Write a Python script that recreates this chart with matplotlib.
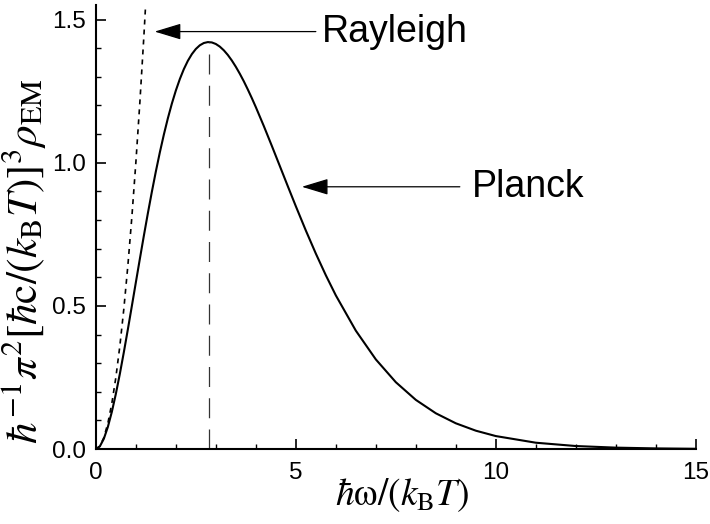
import matplotlib
matplotlib.use("Agg")
import matplotlib.pyplot as plt
from matplotlib.ticker import MultipleLocator

plt.rcParams['font.family'] = ['Liberation Sans', 'DejaVu Sans']
plt.rcParams['mathtext.fontset'] = 'stix'

# Planck curve
planck_x = [0, 0.1, 0.2, 0.3, 0.4, 0.5, 0.6, 0.7, 0.8, 0.9, 1.0, 1.1, 1.2, 1.3, 1.4, 1.5,
            1.6, 1.7, 1.8, 1.9, 2.0, 2.1, 2.2, 2.3, 2.4, 2.5, 2.6, 2.7, 2.8, 2.9, 3.0,
            3.1, 3.2, 3.3, 3.4, 3.5, 3.6, 3.7, 3.8, 3.9, 4.0, 4.2, 4.4, 4.6, 4.8, 5.0,
            5.25, 5.5, 5.75, 6.0, 6.5, 7.0, 7.5, 8.0, 8.5, 9.0, 9.5, 10, 11, 12, 13, 14, 15]
planck_y = [0, 0.0095, 0.0361, 0.0772, 0.1301, 0.1927, 0.2627, 0.3384, 0.4178, 0.4995,
            0.5820, 0.6641, 0.7448, 0.8231, 0.8981, 0.9694, 1.0362, 1.0981, 1.1549, 1.2063,
            1.2521, 1.2923, 1.3269, 1.3558, 1.3792, 1.3973, 1.4102, 1.4181, 1.4213, 1.4201,
            1.4147, 1.4054, 1.3925, 1.3763, 1.3570, 1.3350, 1.3106, 1.2842, 1.2556, 1.2256,
            1.1941, 1.1279, 1.0588, 0.9883, 0.9177, 0.8480, 0.7633, 0.6827, 0.6070, 0.5367,
            0.4135, 0.3131, 0.2335, 0.1718, 0.1250, 0.0900, 0.0642, 0.0454, 0.0222, 0.0106,
            0.0050, 0.0023, 0.0010]

# Rayleigh curve
rayleigh_x = [0, 0.1, 0.2, 0.3, 0.4, 0.5, 0.6, 0.7, 0.8, 0.9, 1.0, 1.1, 1.2, 1.3]
rayleigh_y = [0, 0.01, 0.04, 0.09, 0.16, 0.25, 0.36, 0.49, 0.64, 0.81, 1.0, 1.21, 1.44, 1.69]

peak_x = 2.82
peak_y = 1.42

fig = plt.figure(figsize=(7.1, 5.24), dpi=100)
ax = fig.add_axes([0.135, 0.143, 0.845, 0.847])

ax.plot(planck_x, planck_y, color='black', lw=1.5)
ax.plot(rayleigh_x, rayleigh_y, color='black', lw=1.2, linestyle=(0, (3, 3)))
ax.plot([peak_x, peak_x], [0, peak_y], color='#333333', lw=0.9, linestyle=(0, (16, 9)))

ax.set_xlim(0, 15)
ax.set_ylim(0, 1.55)
ax.xaxis.set_minor_locator(MultipleLocator(1))
ax.yaxis.set_minor_locator(MultipleLocator(0.1))
ax.set_xticks([0, 5, 10, 15])
ax.set_xticklabels(['0', '5', '10', '15'])
ax.set_yticks([0, 0.5, 1.0, 1.5])
ax.set_yticklabels(['0.0', '0.5', '1.0', '1.5'])

for s in ['top', 'right']:
    ax.spines[s].set_visible(False)
for s in ['left', 'bottom']:
    ax.spines[s].set_linewidth(1.5)

ax.tick_params(which='major', direction='in', length=7, width=1.2, labelsize=17.5)
ax.tick_params(axis='y', which='major', pad=7)
ax.tick_params(axis='x', which='major', pad=9)
ax.tick_params(which='minor', direction='in', length=3.5, width=1.0)

ax.set_xlabel(r'$\hbar\mathrm{\omega}/(k_\mathrm{B}T)$', fontsize=27)
ax.xaxis.set_label_coords(0.511, -0.062, transform=ax.transAxes)
ax.xaxis.label.set_va('top')
ax.set_ylabel(r'$\hbar^{-1}\pi^2[\hbar\mathrm{c}/(k_\mathrm{B}T)]^3\rho_\mathrm{EM}$',
              fontsize=31)
ax.yaxis.set_label_coords(-0.078, 0.423, transform=ax.transAxes)

arrow = dict(arrowstyle='-|>,head_length=1.65,head_width=0.5', mutation_scale=10,
             color='black', lw=0.9, shrinkA=0, shrinkB=0)
ax.annotate('', xy=(1.47, 1.458), xytext=(5.5, 1.458), arrowprops=arrow)
ax.text(5.65, 1.458, 'Rayleigh', fontsize=27, va='center', ha='left')
ax.annotate('', xy=(5.15, 0.916), xytext=(9.1, 0.916), arrowprops=arrow)
ax.text(9.4, 0.916, 'Planck', fontsize=27, va='center', ha='left')

fig.savefig('out.png', dpi=100)
